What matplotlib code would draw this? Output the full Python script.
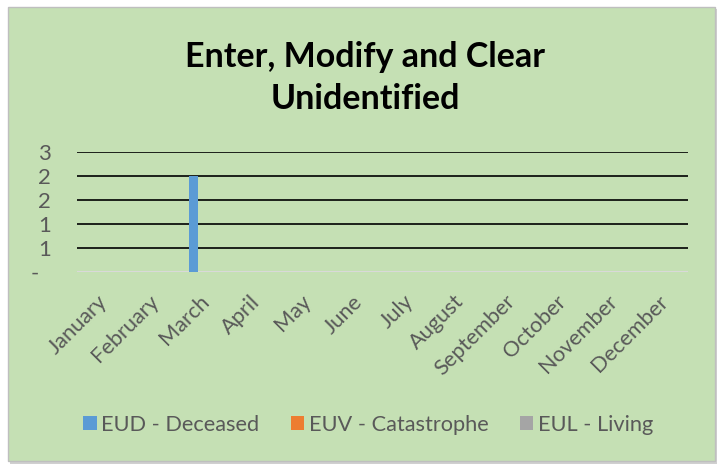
import matplotlib
matplotlib.use("Agg")
import matplotlib.pyplot as plt
import matplotlib.transforms as mtransforms
import numpy as np
from matplotlib.patches import Rectangle, Patch
from matplotlib.ticker import FixedLocator, FixedFormatter

months = ["January", "February", "March", "April", "May", "June", "July",
          "August", "September", "October", "November", "December"]
series_names = ["EUD - Deceased", "EUV - Catastrophe", "EUL - Living"]
eud = [0, 0, 2, 0, 0, 0, 0, 0, 0, 0, 0, 0]
euv = [0, 0, 0, 0, 0, 0, 0, 0, 0, 0, 0, 0]
eul = [0, 0, 0, 0, 0, 0, 0, 0, 0, 0, 0, 0]
ytick_vals = [0, 0.5, 1, 1.5, 2, 2.5]
ytick_labels = ["-  ", "1", "1", "2", "2", "3"]
colors = ["#5B9BD5", "#ED7D31", "#A5A5A5"]

plt.rcParams['font.family'] = ['Lato', 'DejaVu Sans']
W, H = 721, 465
fig = plt.figure(figsize=(W / 100, H / 100), dpi=100)
fig.patch.set_facecolor("white")

bg = "#C5E0B4"
# shadow
fig.patches.append(Rectangle((10 / W, 1 - 464 / H), 707 / W, 455 / H, transform=fig.transFigure,
                             facecolor="#D0D0D0", edgecolor="none", zorder=0))
fig.patches.append(Rectangle((8 / W, 1 - 461 / H), 707 / W, 454 / H, transform=fig.transFigure,
                             facecolor=bg, edgecolor="#BFBFBF", linewidth=1, zorder=1))

ax = fig.add_axes([77 / W, 1 - 272 / H, 611 / W, 120 / H])
ax.set_facecolor("none")
ax.set_zorder(2)

x = np.arange(len(months))
bw = 0.18
for i, (vals, c) in enumerate(zip([eud, euv, eul], colors)):
    ax.bar(x + (i - 1) * bw - 0.04, vals, width=bw, color=c, zorder=3)

ax.set_xlim(-0.5, len(months) - 0.5)
ax.set_ylim(0, 2.5)
ax.yaxis.set_major_locator(FixedLocator(ytick_vals))
ax.yaxis.set_major_formatter(FixedFormatter(ytick_labels))
for v in ytick_vals[1:]:
    ax.axhline(v, color="black", linewidth=1.2, zorder=1)
ax.axhline(0, color="#D9D9D9", linewidth=1.5, zorder=2)
for s in ax.spines.values():
    s.set_visible(False)
ax.tick_params(axis="both", length=0, colors="#595959")
ax.tick_params(axis="y", pad=19, labelsize=16)
ax.set_xticks(x)
ax.set_xticklabels(months, rotation=45, ha="right", rotation_mode="anchor")
ax.tick_params(axis="x", pad=14, labelsize=15.7)
offset = mtransforms.ScaledTranslation(-5 / 100, 0, fig.dpi_scale_trans)
for lbl in ax.get_xticklabels():
    lbl.set_transform(lbl.get_transform() + offset)

fig.text(365 / W, 1 - 78 / H, "Enter, Modify and Clear\nUnidentified", ha="center", va="center",
         fontsize=24.5, fontweight="bold", color="black", linespacing=1.35)

handles = [Patch(facecolor=c, edgecolor="none") for c in colors]
leg = fig.legend(handles, series_names, loc="center", bbox_to_anchor=(368 / W, 1 - 425 / H),
                 ncol=3, frameon=False, fontsize=15.7, handlelength=0.62, handleheight=0.62,
                 handletextpad=0.2, columnspacing=1.45, labelcolor="#595959")

fig.savefig("out.png", dpi=100, facecolor=fig.get_facecolor())
